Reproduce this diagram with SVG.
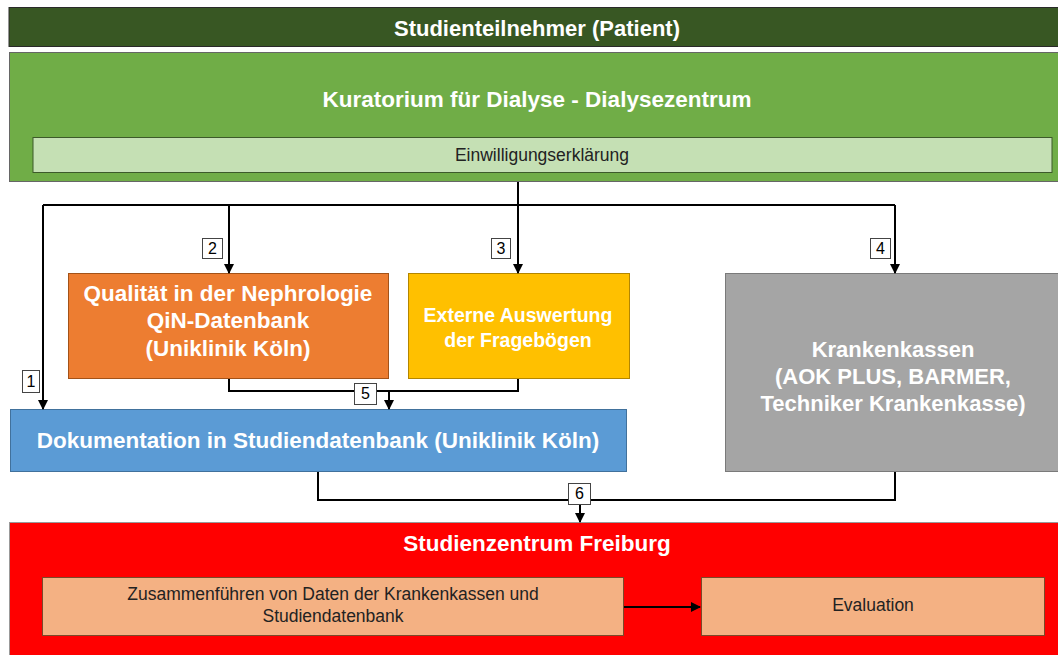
<svg xmlns="http://www.w3.org/2000/svg" width="1058" height="655" viewBox="0 0 1058 655">
<style>
.t{font-family:"Liberation Sans",Arial,sans-serif;font-weight:bold;fill:#fff;text-anchor:middle}
.s{font-family:"Liberation Sans",Arial,sans-serif;fill:#222;text-anchor:middle;font-size:17.5px}
.ln{fill:none;stroke:#000;stroke-width:2}
.lb{fill:#fff;stroke:#444;stroke-width:1}
.lt{font-family:"Liberation Sans",Arial,sans-serif;font-size:16px;fill:#000;text-anchor:middle}
</style>
<defs>
<marker id="ar" markerWidth="10" markerHeight="10" refX="9" refY="5" orient="auto" markerUnits="userSpaceOnUse"><path d="M0,0 L10,5 L0,10 Z" fill="#000"/></marker>
</defs>
<rect width="1058" height="655" fill="#fff"/>
<g id="patient"><rect x="9" y="7.5" width="1052" height="39" fill="#385723" stroke="#2a2a2a" stroke-width="1"/><text class="t" x="537" y="36" font-size="22">Studienteilnehmer (Patient)</text></g>
<g id="kuratorium"><rect x="9.5" y="52.5" width="1052" height="129" fill="#70AD47" stroke="#666" stroke-width="1"/><text class="t" x="537" y="107" font-size="22.5">Kuratorium für Dialyse - Dialysezentrum</text></g>
<g id="einwilligung"><rect x="33" y="137.5" width="1019" height="35" fill="#C5E0B4" stroke="#3d5a2a" stroke-width="1"/><text class="s" x="542" y="161">Einwilligungserklärung</text></g>
<g id="qin"><rect x="68.5" y="273.5" width="320" height="105" fill="#ED7D31" stroke="#a35218" stroke-width="1"/><text class="t" x="228" y="301" font-size="22.5">Qualität in der Nephrologie</text><text class="t" x="228" y="328" font-size="22.5">QiN-Datenbank</text><text class="t" x="228" y="356" font-size="22.5">(Uniklinik Köln)</text></g>
<g id="extern"><rect x="408.5" y="273.5" width="221" height="105" fill="#FFC000" stroke="#b38600" stroke-width="1"/><text class="t" x="518" y="322" font-size="19.5">Externe Auswertung</text><text class="t" x="518" y="347" font-size="19.5">der Fragebögen</text></g>
<g id="kassen"><rect x="725.5" y="273.5" width="340" height="198" fill="#A5A5A5" stroke="#7a7a7a" stroke-width="1"/><text class="t" x="893" y="357" font-size="22" fill="#f2f2f2">Krankenkassen</text><text class="t" x="893" y="384" font-size="22">(AOK PLUS, BARMER,</text><text class="t" x="893" y="411" font-size="22">Techniker Krankenkasse)</text></g>
<g id="doku"><rect x="10.5" y="409.5" width="616" height="62" fill="#5B9BD5" stroke="#41719c" stroke-width="1"/><text class="t" x="318" y="448" font-size="22.5">Dokumentation in Studiendatenbank (Uniklinik Köln)</text></g>
<g id="freiburg"><rect x="9.5" y="522.5" width="1055" height="140" fill="#FF0000" stroke="#999" stroke-width="1"/><text class="t" x="537" y="551" font-size="22.5">Studienzentrum Freiburg</text></g>
<g id="zusammen"><rect x="42.5" y="577.5" width="581" height="58" fill="#F4B183" stroke="#7a4a2a" stroke-width="1"/><text class="s" x="333" y="600">Zusammenführen von Daten der Krankenkassen und</text><text class="s" x="333" y="622">Studiendatenbank</text></g>
<g id="evaluation"><rect x="701.5" y="577.5" width="343" height="58" fill="#F4B183" stroke="#7a4a2a" stroke-width="1"/><text class="s" x="873" y="611">Evaluation</text></g>
<g id="connectors">
<path class="ln" d="M518,182 V205"/>
<path class="ln" d="M43,205 H895"/>
<path class="ln" d="M43,205 V409" marker-end="url(#ar)"/>
<path class="ln" d="M229,205 V273" marker-end="url(#ar)"/>
<path class="ln" d="M518,205 V273" marker-end="url(#ar)"/>
<path class="ln" d="M895,205 V273" marker-end="url(#ar)"/>
<path class="ln" d="M229,379 V391 H518 V379"/>
<path class="ln" d="M389,391 V409" marker-end="url(#ar)"/>
<path class="ln" d="M318,472 V500 H895 V472"/>
<path class="ln" d="M580,500 V522" marker-end="url(#ar)"/>
<path class="ln" d="M624,607 H700" marker-end="url(#ar)"/>
<rect class="lb" x="22.5" y="370.5" width="17" height="22"/><text class="lt" x="31" y="387">1</text>
<rect class="lb" x="202.5" y="238.5" width="20" height="20"/><text class="lt" x="212.5" y="254">2</text>
<rect class="lb" x="491.5" y="238.5" width="19" height="20"/><text class="lt" x="501" y="254">3</text>
<rect class="lb" x="870.5" y="238.5" width="20" height="20"/><text class="lt" x="880.5" y="254">4</text>
<rect class="lb" x="354.5" y="383.5" width="22" height="21"/><text class="lt" x="365.5" y="399">5</text>
<rect class="lb" x="568.5" y="483.5" width="22" height="21"/><text class="lt" x="579.5" y="499">6</text>
</g>
</svg>
